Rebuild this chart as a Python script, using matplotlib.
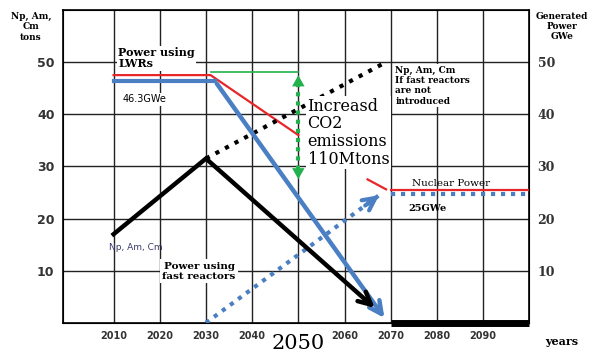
import matplotlib.pyplot as plt
import matplotlib.transforms as mtransforms

# data
years_lwr = [2010, 2031, 2050]
lwr_power = [47.5, 47.5, 36.0]
years_blue = [2010, 2032, 2069]
lwr_power_real = [46.3, 46.3, 0.5]
years_np = [2010, 2030, 2067]
np_tons = [17.0, 31.5, 2.5]
years_np_nofr = [2030, 2069]
np_tons_nofr = [31.5, 50.0]
years_fr = [2030, 2068]
fr_power = [0.0, 24.8]
years_late = [2070, 2100]
nuclear_red = [25.5, 25.5]
nuclear_blue = [24.8, 24.8]
np_late = [0.0, 0.0]
co2_x = 2050
co2_top, co2_bottom = 48.0, 27.0

xticks = [2010, 2020, 2030, 2040, 2060, 2070, 2080, 2090]
yticks = [10, 20, 30, 40, 50]

RED = '#e8262a'
BLUE = '#4a7fc4'
GREEN = '#22b14c'
serif = 'DejaVu Serif'

fig = plt.figure(figsize=(5.98, 3.54), dpi=100)
ax = fig.add_axes([0.105, 0.088, 0.78, 0.884])
ax.set_xlim(1999, 2100)
ax.set_ylim(0, 60)

# grid
for x in [2010, 2020, 2030, 2040, 2050, 2060, 2070, 2080, 2090]:
    ax.axvline(x, color='#222222', lw=1.0, zorder=0)
for y in yticks:
    ax.axhline(y, color='#222222', lw=1.0, zorder=0)
for s in ax.spines.values():
    s.set_linewidth(1.2)

ax.set_xticks(xticks)
ax.set_xticklabels([str(x) for x in xticks], fontsize=7, fontweight='bold', color='#333333')
ax.set_yticks(yticks)
ax.set_yticklabels([str(y) for y in yticks], fontsize=9, fontweight='bold', color='#333333')
ax.tick_params(length=0, pad=6)
ax2 = ax.twinx()
ax2.set_ylim(0, 60)
ax2.set_yticks(yticks)
ax2.set_yticklabels([str(y) for y in yticks], fontsize=9, fontweight='bold', color='#333333',
                    family=serif)
ax2.tick_params(length=0, pad=6)

head = '->,head_length=0.9,head_width=0.45'

# LWR power lines
ax.plot(years_lwr, lwr_power, color=RED, lw=1.6, zorder=3)
ax.plot(years_blue[:2], lwr_power_real[:2], color=BLUE, lw=3, zorder=3)
ax.annotate('', xy=(years_blue[2], lwr_power_real[2]), xytext=(years_blue[1], lwr_power_real[1]),
            arrowprops=dict(arrowstyle=head, color=BLUE, lw=3.2), zorder=4)

# Np, Am, Cm
ax.plot(years_np[:2], np_tons[:2], color='black', lw=3.2, zorder=3)
ax.annotate('', xy=(years_np[2], np_tons[2]), xytext=(years_np[1], np_tons[1]),
            arrowprops=dict(arrowstyle=head, color='black', lw=3.2), zorder=4)
ax.plot(years_np_nofr, np_tons_nofr, color='black', lw=3, ls=(0, (1, 1.6)), zorder=3)

# fast reactor power: dotted line, solid arrowhead
ax.plot(years_fr, fr_power, color=BLUE, lw=3, ls=(0, (1, 1.4)), zorder=3)
ax.annotate('', xy=(years_fr[1], fr_power[1]),
            xytext=(years_fr[1] - 4, fr_power[1] - 4 * (fr_power[1] - fr_power[0]) / (years_fr[1] - years_fr[0])),
            arrowprops=dict(arrowstyle=head, color=BLUE, lw=3), zorder=4)

# after 2070
ax.plot([2065, 2069], [27.5, 25.6], color=RED, lw=1.6, zorder=3)
ax.plot(years_late, nuclear_red, color=RED, lw=1.6, zorder=3)
ax.plot(years_late, nuclear_blue, color=BLUE, lw=3, ls=(0, (1, 1.4)), zorder=3)
ax.plot(years_late, np_late, color='black', lw=5, zorder=5, clip_on=False, solid_capstyle='butt')

# CO2 gap
ax.plot([2031, co2_x], [co2_top, co2_top], color=GREEN, lw=1.2, zorder=3)
ax.plot([co2_x, co2_x], [co2_top - 2, co2_bottom + 2], color=GREEN, lw=3, ls=(0, (1, 1.2)), zorder=3)
for y0, y1 in [(co2_top - 3, co2_top), (co2_bottom + 3, co2_bottom)]:
    ax.annotate('', xy=(co2_x, y1), xytext=(co2_x, y0),
                arrowprops=dict(arrowstyle='-|>,head_length=0.8,head_width=0.45', color=GREEN, lw=0),
                zorder=4)

white = dict(facecolor='white', edgecolor='none', pad=1)
ax.text(2011, 48.6, 'Power using\nLWRs', family=serif, fontsize=8, fontweight='bold',
        va='bottom', linespacing=1.0, bbox=white)
ax.text(2012, 42.3, '46.3GWe', fontsize=7, bbox=white)
ax.text(2052, 30.5, 'Increasd\nCO2\nemissions\n110Mtons', family=serif, fontsize=11.5,
        linespacing=1.05, bbox=white, zorder=4)
ax.text(2071, 42.0, 'Np, Am, Cm\nIf fast reactors\nare not\nintroduced', family=serif,
        fontsize=6.5, fontweight='bold', linespacing=1.2, bbox=white, zorder=4)
ax.text(2083, 25.9, 'Nuclear Power', family=serif, fontsize=7.5, ha='center', va='bottom', zorder=4)
ax.text(2078, 21.5, '25GWe', family=serif, fontsize=7, fontweight='bold', ha='center', zorder=4)
ax.text(2009, 14.0, 'Np, Am, Cm', fontsize=6.5, color='#3a3a6a', zorder=4)
ax.text(2028.5, 8.5, 'Power using\nfast reactors', family=serif, fontsize=7.5, fontweight='bold',
        ha='center', linespacing=1.05, bbox=dict(facecolor='white', edgecolor='none', pad=2), zorder=4)

# big 2050 label under its gridline
trans = mtransforms.blended_transform_factory(ax.transData, fig.transFigure)
ax.text(2050, 0.002, '2050', family=serif, fontsize=15, ha='center', va='bottom', transform=trans)

# outer labels
fig.text(0.052, 0.965, 'Np, Am,\nCm\ntons', family=serif, fontsize=6.5, fontweight='bold',
         ha='center', va='top', linespacing=1.15)
fig.text(0.94, 0.965, 'Generated\nPower\nGWe', family=serif, fontsize=6.5, fontweight='bold',
         ha='center', va='top', linespacing=1.15)
fig.text(0.94, 0.025, 'years', family=serif, fontsize=8, fontweight='bold', ha='center')

fig.savefig('out.png', dpi=100)
